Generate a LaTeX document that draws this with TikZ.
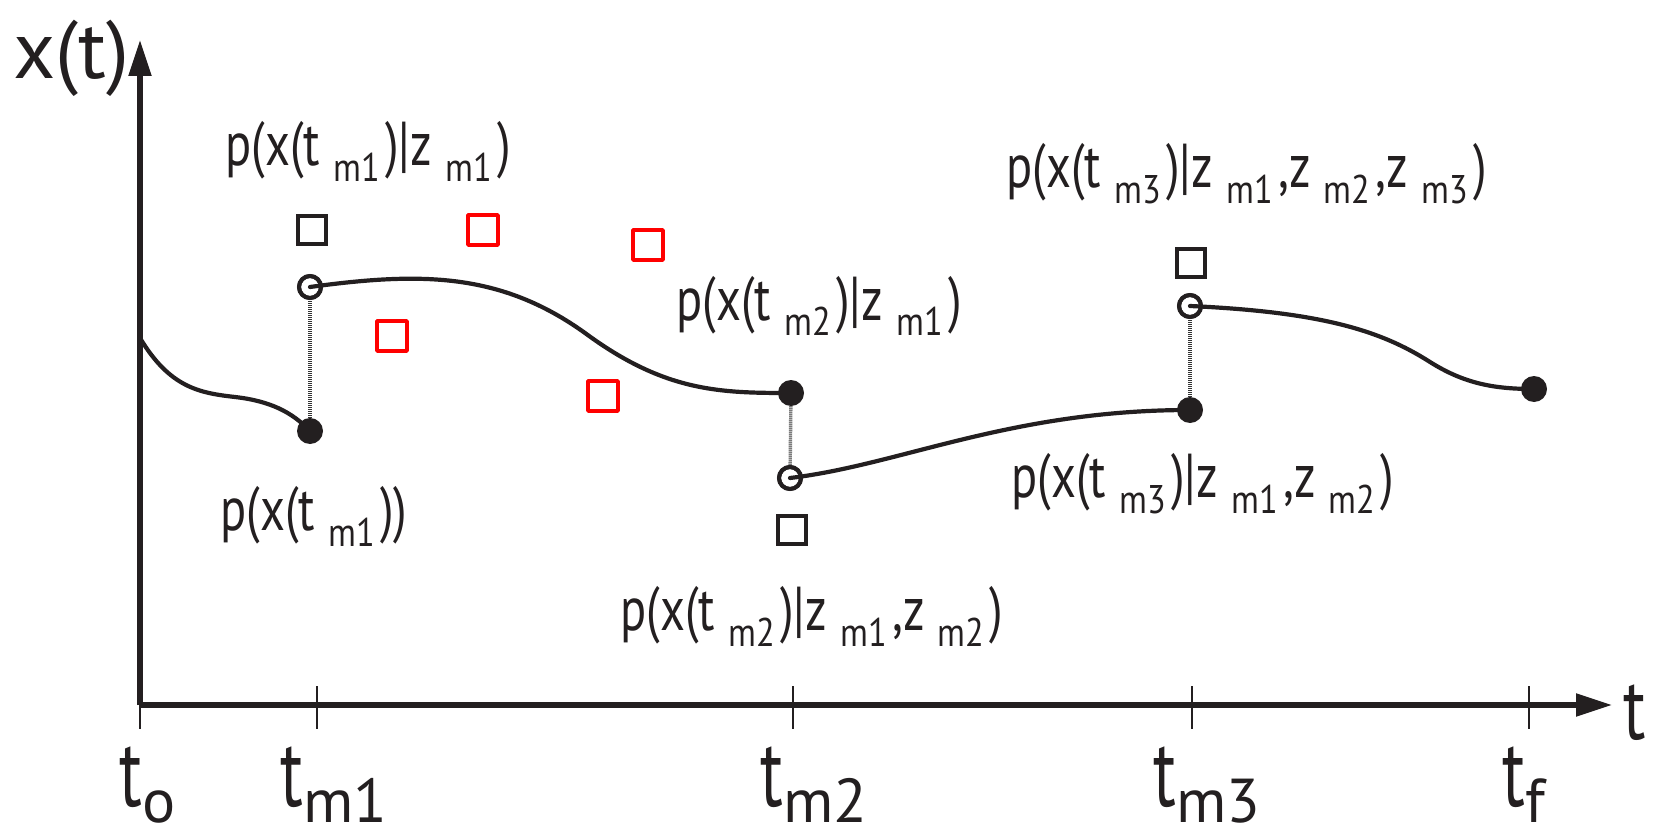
\documentclass[tikz,border=0pt]{standalone}
\usepackage{fontspec}
\setmainfont{PT Sans}
\usetikzlibrary{arrows.meta}
\definecolor{ink}{HTML}{231F20}
\definecolor{sqred}{HTML}{FF0000}
\newcommand\lx{0.78}
\newcommand\lsub[1]{\hspace{8.5pt}\raisebox{-8pt}{\fontsize{20}{20}\selectfont\scalebox{1.1}[1]{#1}}\hspace{3.5pt}}
\newcommand\tsub[1]{\raisebox{-8pt}[\height][0pt]{\fontsize{31}{31}\selectfont\scalebox{1.0}[1]{#1}}}
\begin{document}
\begin{tikzpicture}[x=0.5pt,y=-0.5pt,
  curve/.style={line width=2.1pt, draw=ink, line cap=round},
  axis/.style={line width=2.6pt, draw=ink, -{Triangle[length=18pt,width=11pt]}},
  tickmark/.style={line width=1.4pt, draw=ink},
  fdot/.style={circle, fill=ink, inner sep=0pt, minimum size=13pt},
  odot/.style={circle, draw=ink, line width=2pt, inner sep=0pt, minimum size=11pt},
  bsq/.style={rectangle, draw=ink, line width=2pt, inner sep=0pt, minimum size=14pt},
  rsq/.style={rectangle, draw=sqred, line width=2.2pt, line join=round, inner sep=0pt, minimum size=14.8pt},
  vlink/.style={draw=black!80, line width=1.7pt, dash pattern=on 0.5pt off 0.5pt},
  lbl/.style={anchor=base west, inner sep=0pt, font=\fontsize{31}{31}\selectfont, text=ink},
  tlbl/.style={anchor=base west, inner sep=0pt, font=\fontsize{48}{48}\selectfont, text=ink}]
\useasboundingbox (0,0) rectangle (1656,840);

% axes
\coordinate (O) at (140,705);
\coordinate (ytop) at (140,40);
\coordinate (xend) at (1612,705);
\draw[axis] (O) -- (ytop);
\draw[axis] (O) -- (xend);
\foreach \x in {140,317,793,1192,1529} \draw[tickmark] (\x,686) -- (\x,729);

% axis labels
\node[anchor=base west, inner sep=0pt, font=\fontsize{41}{41}\selectfont, text=ink] (xlab) at (13,79) {x(t)};
\node[anchor=base west, inner sep=0pt, font=\fontsize{44}{44}\selectfont, text=ink] (tlab) at (1623,739) {\scalebox{0.75}[1]{t}};

% tick labels
\node[tlbl] (T0) at (119,806) {\scalebox{0.7}[1]{t}\tsub{o}};
\node[tlbl] (T1) at (280,806) {\scalebox{0.7}[1]{t}\tsub{m1}};
\node[tlbl] (T2) at (760,806) {\scalebox{0.7}[1]{t}\tsub{m2}};
\node[tlbl] (T3) at (1153,806) {\scalebox{0.7}[1]{t}\tsub{m3}};
\node[tlbl] (T4) at (1502,806) {\scalebox{0.7}[1]{t}\tsub{f}};

% points
\coordinate (c0) at (140,338);
\node[fdot] (d1) at (310,431) {};
\node[odot] (o1) at (310,287) {};
\node[fdot] (d2) at (791,393) {};
\node[odot] (o2) at (790,478) {};
\node[fdot] (d3) at (1190,410) {};
\node[odot] (o3) at (1190,306) {};
\node[fdot] (d4) at (1534,389) {};

% dotted links
\draw[vlink] (d1) -- (o1);
\draw[vlink] (d2) -- (o2);
\draw[vlink] (d3) -- (o3);

% curves
\draw[curve] (c0) .. controls (170,388) and (200,393) .. (235,397) .. controls (270,401) and (292,412) .. (d1.center);
\draw[curve] (o1.center) .. controls (420,272) and (500,272) .. (585,333) .. controls (665,392) and (720,393) .. (d2.center);
\draw[curve] (o2.center) .. controls (900,465) and (1010,410) .. (d3.center);
\draw[curve] (o3.center) .. controls (1320,312) and (1380,330) .. (1430,362) .. controls (1465,384) and (1495,389) .. (d4.center);

% redraw circles on top
\node[odot] at (o1) {};
\node[odot] at (o2) {};
\node[odot] at (o3) {};

% squares
\node[bsq] (s1) at (312,230) {};
\node[bsq] (s2) at (792,530) {};
\node[bsq] (s3) at (1191,263) {};
\node[rsq] (r1) at (483,230) {};
\node[rsq] (r2) at (648,245) {};
\node[rsq] (r3) at (392,336) {};
\node[rsq] (r4) at (603,396) {};

% labels
\node[lbl] (L1) at (225,166) {\scalebox{\lx}[1]{p(x(t\lsub{m1})|z\lsub{m1})}};
\node[lbl] (L2) at (676,320) {\scalebox{\lx}[1]{p(x(t\lsub{m2})|z\lsub{m1})}};
\node[lbl] (L3) at (220,530) {\scalebox{\lx}[1]{p(x(t\lsub{m1}))}};
\node[lbl] (L4) at (620,630) {\scalebox{\lx}[1]{p(x(t\lsub{m2})|z\lsub{m1},z\lsub{m2})}};
\node[lbl] (L5) at (1006,188) {\scalebox{\lx}[1]{p(x(t\lsub{m3})|z\lsub{m1},z\lsub{m2},z\lsub{m3})}};
\node[lbl] (L6) at (1011,497) {\scalebox{\lx}[1]{p(x(t\lsub{m3})|z\lsub{m1},z\lsub{m2})}};
\end{tikzpicture}
\end{document}
